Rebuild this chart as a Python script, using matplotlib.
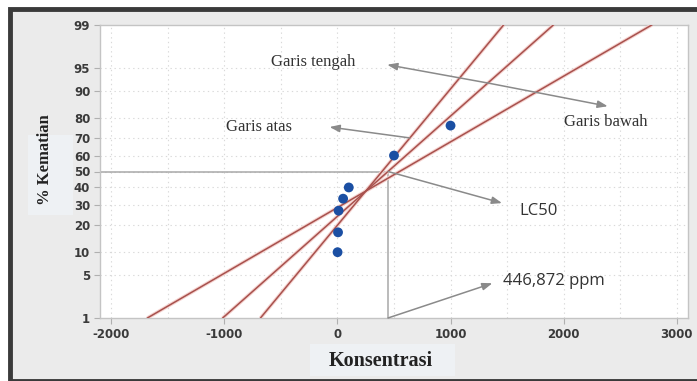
import numpy as np
import matplotlib
matplotlib.use("Agg")
import matplotlib.pyplot as plt
from matplotlib.patches import Rectangle
from statistics import NormalDist

# Observed mortality (%) per concentration (ppm)
konsentrasi = [1, 5, 10, 50, 100, 500, 1000]
kematian = [10.0, 16.7, 26.7, 33.3, 40.0, 60.0, 76.7]

# Probit lines: x at 50 % and x at 99 % (atas, tengah, bawah)
garis_nama = ["Garis atas", "Garis tengah", "Garis bawah"]
garis_x50 = [394.0, 446.872, 549.0]
garis_x99 = [1469.0, 1909.0, 2779.0]

lc50 = 446.872

y_ticks = [1, 5, 10, 20, 30, 40, 50, 60, 70, 80, 90, 95, 99]
x_ticks = [-2000, -1000, 0, 1000, 2000, 3000]
x_grid = np.arange(-2000, 3001, 500)

nd = NormalDist()
_ppf = np.vectorize(lambda p: nd.inv_cdf(min(max(p, 1e-9), 1 - 1e-9)), otypes=[float])
_cdf = np.vectorize(nd.cdf, otypes=[float])


def fwd(p):
    return _ppf(np.asarray(p, dtype=float) / 100.0)


def inv(z):
    return _cdf(np.asarray(z, dtype=float)) * 100.0


W, H = 697, 381
fig = plt.figure(figsize=(W / 100, H / 100), dpi=100)
fig.patch.set_facecolor("white")

# outer panel with dark frame
fig.patches.append(Rectangle((10 / W, 0), (W + 10) / W, (H - 9) / H,
                             transform=fig.transFigure, facecolor="#ebebeb",
                             edgecolor="#3a3a3a", lw=3.5, zorder=0))
# faint label boxes
fig.patches.append(Rectangle((28 / W, (H - 215) / H), 45 / W, 80 / H,
                             transform=fig.transFigure, facecolor="#eef1f4",
                             edgecolor="none", zorder=0.5))
fig.patches.append(Rectangle((310 / W, (H - 376) / H), 145 / W, 32 / H,
                             transform=fig.transFigure, facecolor="#eef1f4",
                             edgecolor="none", zorder=0.5))

ax = fig.add_axes([100 / W, 1 - 318 / H, 588 / W, 293 / H])
ax.set_zorder(2)
ax.set_yscale("function", functions=(fwd, inv))
ax.set_xlim(-2100, 3100)
ax.set_ylim(1, 99)
ax.set_facecolor("white")

for s in ax.spines.values():
    s.set_color("#c4c4c4")
    s.set_linewidth(1.0)

# dotted grid
for gx in x_grid:
    ax.axvline(gx, color="#d9d9d9", lw=0.8, ls=(0, (1.2, 3.0)), zorder=1)
for gy in y_ticks[1:-1]:
    ax.axhline(gy, color="#d9d9d9", lw=0.8, ls=(0, (1.2, 3.0)), zorder=1)

ax.set_xticks(x_ticks)
ax.set_xticklabels([str(t) for t in x_ticks])
ax.set_yticks(y_ticks)
ax.set_yticklabels([str(t) for t in y_ticks])
ax.yaxis.set_minor_locator(matplotlib.ticker.NullLocator())
ax.tick_params(axis="both", length=4, width=0.8, color="#b0b0b0",
               labelsize=8.5, labelcolor="#3a3a3a", pad=3)
for lab in ax.get_xticklabels() + ax.get_yticklabels():
    lab.set_fontweight("bold")
    lab.set_family("DejaVu Sans")

# LC50 guide lines
ax.plot([-2100, lc50], [50, 50], color="#a8a8a8", lw=1.1, zorder=2)
ax.plot([lc50, lc50], [1, 50], color="#a8a8a8", lw=1.1, zorder=2)

# probit lines
p_line = np.linspace(1, 99, 60)
z99 = nd.inv_cdf(0.99)
for x50, x99 in zip(garis_x50, garis_x99):
    xs = x50 + (x99 - x50) * fwd(p_line) / z99
    ax.plot(xs, p_line, color="#f5d3d0", lw=2.6, zorder=3, solid_capstyle="butt")
    ax.plot(xs, p_line, color="#a8514d", lw=1.1, zorder=4)

# observations
ax.scatter(konsentrasi, kematian, s=50, color="#1b4fa3", zorder=5,
           edgecolors="none")

arrow = dict(arrowstyle="-|>,head_length=0.6,head_width=0.22",
             color="#8a8a8a", lw=1.1, shrinkA=0, shrinkB=0)


def on_line(i, p):
    return garis_x50[i] + (garis_x99[i] - garis_x50[i]) * float(fwd(p)) / z99


serif = "Liberation Serif"
txt_col = "#333333"

# Garis tengah / Garis bawah arrows from the middle line
start_t = (on_line(1, 92.0), 92.0)
ax.annotate("", xy=(440, 95.5), xytext=start_t, arrowprops=arrow, zorder=6)
ax.annotate("", xy=(2390, 85.0), xytext=start_t, arrowprops=arrow, zorder=6)
ax.text(-215, 95.9, garis_nama[1], family=serif, fontsize=12, color=txt_col,
        ha="center", va="center", zorder=7)
ax.text(2370, 78.4, garis_nama[2], family=serif, fontsize=12, color=txt_col,
        ha="center", va="center", zorder=7)

# Garis atas arrow from the steep line
start_a = (on_line(0, 70.3), 70.3)
ax.annotate("", xy=(-70, 76.0), xytext=start_a, arrowprops=arrow, zorder=6)
ax.text(-690, 76.0, garis_nama[0], family=serif, fontsize=12, color=txt_col,
        ha="center", va="center", zorder=7)

# LC50 annotations
ax.annotate("", xy=(1455, 30.8), xytext=(lc50, 50), arrowprops=arrow, zorder=6)
ax.text(1610, 26.5, "LC50", family="Open Sans", fontsize=12, color=txt_col,
        ha="left", va="center", zorder=7)
ax.annotate("", xy=(1370, 3.8), xytext=(lc50, 1), arrowprops=arrow, zorder=6)
ax.text(1460, 4.1, f"{lc50:.3f}".replace(".", ",") + " ppm", family="Open Sans",
        fontsize=12, color=txt_col, ha="left", va="center", zorder=7)

fig.text(381 / W, 1 - 361 / H, "Konsentrasi", family=serif, fontweight="bold",
         fontsize=14.5, color="#222222", ha="center", va="center")
fig.text(45 / W, 1 - 160 / H, "% Kematian", family=serif, fontweight="bold",
         fontsize=12, color="#222222", ha="center", va="center", rotation=90)

fig.savefig("out.png", dpi=100, facecolor=fig.get_facecolor())
